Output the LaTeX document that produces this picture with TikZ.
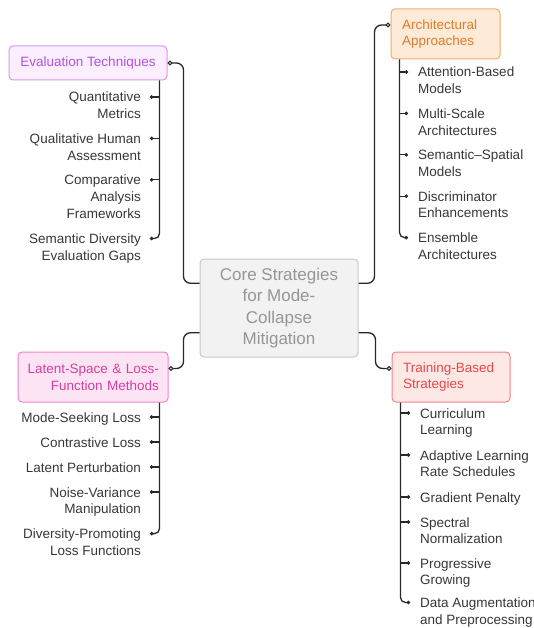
\documentclass[tikz,border=0pt]{standalone}
\usepackage{fontspec}
\setmainfont{Liberation Sans}
\usetikzlibrary{arrows.meta,calc}
\definecolor{linec}{RGB}{40,40,40}
\definecolor{childc}{RGB}{55,55,55}
\definecolor{evfill}{RGB}{250,238,255}
\definecolor{evdraw}{RGB}{212,152,242}
\definecolor{evtext}{RGB}{178,84,222}
\definecolor{arfill}{RGB}{253,235,216}
\definecolor{ardraw}{RGB}{242,172,104}
\definecolor{artext}{RGB}{226,122,42}
\definecolor{lafill}{RGB}{252,228,245}
\definecolor{ladraw}{RGB}{236,132,202}
\definecolor{latext}{RGB}{214,62,162}
\definecolor{trfill}{RGB}{253,232,230}
\definecolor{trdraw}{RGB}{240,132,132}
\definecolor{trtext}{RGB}{226,72,72}
\definecolor{cofill}{RGB}{242,242,242}
\definecolor{codraw}{RGB}{200,200,200}
\definecolor{cotext}{RGB}{150,150,150}
\newcommand\firststrut{\rule{0pt}{10pt}}
\tikzset{
  link/.style={draw=linec, line width=1.3pt, rounded corners=7pt},
  startdot/.style={{Circle[length=5pt,fill=white,line width=1.1pt]}-},
  enddot/.style={-{Circle[length=5pt,fill=white,line width=1.1pt]}},
  trunk/.style={draw=linec, line width=1.3pt, rounded corners=5pt, -{Circle[length=3.4pt]}},
  tickline/.style={draw=linec, line width=1.3pt, -{Circle[length=3.4pt]}},
  childtext/.style={font=\fontsize{13.5}{16.7}\selectfont, text=childc, inner sep=0pt},
  lchild/.style={childtext, align=right, anchor=north east},
  rchild/.style={childtext, align=left, anchor=north west},
  catbox/.style={rectangle, rounded corners=4pt, line width=1pt, inner ysep=0pt,
    font=\fontsize{13.5}{16.7}\selectfont},
}
\begin{document}
\begin{tikzpicture}[x=1pt,y=-1pt]
\useasboundingbox (0,0) rectangle (533,628);

% core
\node[rectangle, rounded corners=4pt, draw=codraw, fill=cofill, line width=1pt,
  minimum width=158pt, minimum height=98pt, inner sep=0pt, align=center,
  text=cotext, font=\fontsize{17}{21.3}\selectfont] (core) at (279,308)
  {Core Strategies\\for Mode-\\Collapse\\Mitigation};

% categories
\node[catbox, draw=evdraw, fill=evfill, text=evtext, minimum width=158pt,
  minimum height=34pt, inner xsep=0pt, align=center] (ev) at (88,63) {Evaluation Techniques};
\node[catbox, draw=ardraw, fill=arfill, text=artext, text width=87pt, inner xsep=11pt,
  minimum height=50pt, align=left] (ar) at (445.5,34) {Architectural\\Approaches};
\node[catbox, draw=ladraw, fill=lafill, text=latext, text width=132pt, inner xsep=9pt,
  minimum height=50pt, align=right] (la) at (93,377) {Latent-Space \& Loss-\\Function Methods};
\node[catbox, draw=trdraw, fill=trfill, text=trtext, text width=96pt, inner xsep=11pt,
  minimum height=50pt, align=left] (tr) at (451,377) {Training-Based\\Strategies};

% connection points on the core
\coordinate (cA) at ($(core.north west)!0.25!(core.south west)$);
\coordinate (cB) at ($(core.north east)!0.25!(core.south east)$);
\coordinate (cC) at ($(core.north west)!0.75!(core.south west)$);
\coordinate (cD) at ($(core.north east)!0.75!(core.south east)$);
\coordinate (arp) at ($(ar.north west)+(0,16.5)$);
\coordinate (lap) at ($(la.north east)+(0,17)$);
\coordinate (trp) at ($(tr.north west)+(0,17)$);

\draw[link, startdot] (ev.east) -- ++(16,0) |- (cA);
\draw[link, startdot] (arp) -- ++(-16,0) |- (cB);
\draw[link, enddot] (cC) -- ++(-16,0) |- (lap);
\draw[link, enddot] (cD) -- ++(17,0) |- (trp);

% Evaluation children (node top = tick y - 5.2)
\node[lchild] (e1) at (141,91.8) {\firststrut Quantitative\\Metrics};
\node[lchild] (e2) at (141,133.2) {\firststrut Qualitative Human\\Assessment};
\node[lchild] (e3) at (141,174.6) {\firststrut Comparative\\Analysis\\Frameworks};
\node[lchild] (e4) at (141,233.3) {\firststrut Semantic Diversity\\Evaluation Gaps};
\coordinate (etop) at ($(ev.south east)+(-8,0)$);
\foreach \n in {e1,e2,e3}{
  \coordinate (t\n) at ($(\n.north east)+(9,5.2)$);
  \draw[tickline] (etop |- t\n) -- (t\n);
}
\coordinate (te4) at ($(e4.north east)+(9,5.2)$);
\draw[trunk] (etop) |- (te4);

% Architectural children
\node[rchild] (a1) at (418,66.8) {\firststrut Attention-Based\\Models};
\node[rchild] (a2) at (418,108.2) {\firststrut Multi-Scale\\Architectures};
\node[rchild] (a3) at (418,149.6) {\firststrut Semantic–Spatial\\Models};
\node[rchild] (a4) at (418,191.0) {\firststrut Discriminator\\Enhancements};
\node[rchild] (a5) at (418,232.4) {\firststrut Ensemble\\Architectures};
\coordinate (atop) at ($(ar.south west)+(9,0)$);
\foreach \n in {a1,a2,a3,a4}{
  \coordinate (t\n) at ($(\n.north west)+(-10,5.2)$);
  \draw[tickline] (atop |- t\n) -- (t\n);
}
\coordinate (ta5) at ($(a5.north west)+(-10,5.2)$);
\draw[trunk] (atop) |- (ta5);

% Latent children
\node[lchild] (l1) at (141,411.8) {\firststrut Mode-Seeking Loss};
\node[lchild] (l2) at (141,436.8) {\firststrut Contrastive Loss};
\node[lchild] (l3) at (141,461.8) {\firststrut Latent Perturbation};
\node[lchild] (l4) at (141,486.8) {\firststrut Noise-Variance\\Manipulation};
\node[lchild] (l5) at (141,528.4) {\firststrut Diversity-Promoting\\Loss Functions};
\coordinate (ltop) at ($(la.south east)+(-9,0)$);
\foreach \n in {l1,l2,l3,l4}{
  \coordinate (t\n) at ($(\n.north east)+(9,5.2)$);
  \draw[tickline] (ltop |- t\n) -- (t\n);
}
\coordinate (tl5) at ($(l5.north east)+(9,5.2)$);
\draw[trunk] (ltop) |- (tl5);

% Training children
\node[rchild] (r1) at (420,407.8) {\firststrut Curriculum\\Learning};
\node[rchild] (r2) at (420,449.8) {\firststrut Adaptive Learning\\Rate Schedules};
\node[rchild] (r3) at (420,491.8) {\firststrut Gradient Penalty};
\node[rchild] (r4) at (420,516.8) {\firststrut Spectral\\Normalization};
\node[rchild] (r5) at (420,557.8) {\firststrut Progressive\\Growing};
\node[rchild] (r6) at (420,597.3) {\firststrut Data Augmentation\\and Preprocessing};
\coordinate (rtop) at ($(tr.south west)+(9,0)$);
\foreach \n in {r1,r2,r3,r4,r5}{
  \coordinate (t\n) at ($(\n.north west)+(-10,5.2)$);
  \draw[tickline] (rtop |- t\n) -- (t\n);
}
\coordinate (tr6) at ($(r6.north west)+(-10,5.2)$);
\draw[trunk] (rtop) |- (tr6);
\end{tikzpicture}
\end{document}
